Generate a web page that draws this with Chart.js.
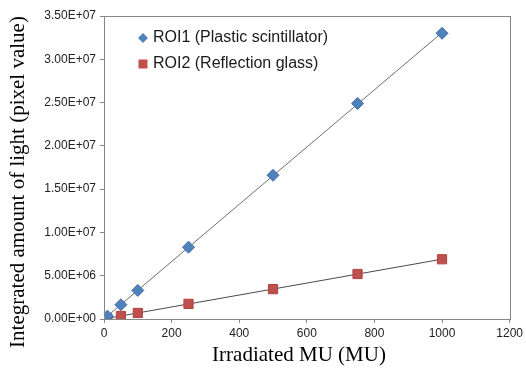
<!DOCTYPE html>
<html>
<head>
<meta charset="utf-8">
<script src="https://cdn.jsdelivr.net/npm/chart.js@4/dist/chart.umd.min.js"></script>
<style>
  html, body { margin: 0; padding: 0; background: #fff; }
  #wrap { width: 526px; height: 369px; }
</style>
</head>
<body>
<div id="wrap"><canvas id="c" width="526" height="369"></canvas></div>
<script>
// values
const doses = [10, 50, 100, 250, 500, 750, 1000];
const roi1 = [0.33e6, 1.65e6, 3.3e6, 8.3e6, 16.6e6, 24.9e6, 33.0e6];
const roi2 = [0.07e6, 0.35e6, 0.7e6, 1.75e6, 3.45e6, 5.2e6, 6.9e6];
const seriesNames = ['ROI1 (Plastic scintillator)', 'ROI2 (Reflection glass)'];
const xTitle = 'Irradiated MU (MU)';
const yTitle = 'Integrated amount of light (pixel value)';

const blue = '#4F81BD';
const red = '#C0504D';

// least squares trendline, drawn from 0 to the last dose
function trend(xs, ys) {
  const n = xs.length;
  const mx = xs.reduce((a, b) => a + b, 0) / n;
  const my = ys.reduce((a, b) => a + b, 0) / n;
  let sxy = 0, sxx = 0;
  for (let i = 0; i < n; i++) {
    sxy += (xs[i] - mx) * (ys[i] - my);
    sxx += (xs[i] - mx) * (xs[i] - mx);
  }
  const k = sxy / sxx, b = my - k * mx;
  const x0 = 0, x1 = xs[n - 1];
  return [{ x: x0, y: k * x0 + b }, { x: x1, y: k * x1 + b }];
}

const pts = (xs, ys) => xs.map((x, i) => ({ x: x, y: ys[i] }));

const frame = {
  id: 'frame',
  afterDraw(chart) {
    const { ctx, chartArea: a } = chart;
    ctx.save();
    ctx.strokeStyle = '#868686';
    ctx.lineWidth = 1;
    ctx.strokeRect(Math.round(a.left) + 0.5, Math.round(a.top) + 0.5,
      Math.round(a.right - a.left), Math.round(a.bottom - a.top));

    // axis titles
    ctx.fillStyle = '#000';
    ctx.font = '21px "Liberation Serif", "DejaVu Serif", serif';
    ctx.textAlign = 'center';
    ctx.textBaseline = 'middle';
    ctx.fillText(xTitle, 299, 355);
    ctx.translate(18, 182);
    ctx.rotate(-Math.PI / 2);
    ctx.fillText(yTitle, 0, 0);
    ctx.restore();

    // legend in the plot area
    ctx.save();
    ctx.font = '16px "Liberation Sans", Arial, sans-serif';
    ctx.textBaseline = 'middle';
    ctx.textAlign = 'left';
    const lx = 143, ly = [38, 64];
    ctx.fillStyle = blue;
    ctx.beginPath();
    ctx.moveTo(lx, ly[0] - 5); ctx.lineTo(lx + 5, ly[0]);
    ctx.lineTo(lx, ly[0] + 5); ctx.lineTo(lx - 5, ly[0]);
    ctx.closePath(); ctx.fill();
    ctx.fillStyle = red;
    ctx.fillRect(lx - 4.5, ly[1] - 4.5, 9, 9);
    ctx.fillStyle = '#1a1a1a';
    ctx.fillText(seriesNames[0], lx + 10, ly[0]);
    ctx.fillText(seriesNames[1], lx + 10, ly[1]);
    ctx.restore();
  }
};

const tickFont = { family: '"Liberation Sans", Arial, sans-serif', size: 12 };

new Chart(document.getElementById('c'), {
  type: 'scatter',
  data: {
    datasets: [
      {
        label: 'trend1', data: trend(doses, roi1), showLine: true,
        borderColor: '#6e6e6e', borderWidth: 1, pointRadius: 0, order: 3
      },
      {
        label: 'trend2', data: trend(doses, roi2), showLine: true,
        borderColor: '#4a4a4a', borderWidth: 1, pointRadius: 0, order: 3
      },
      {
        label: seriesNames[0], data: pts(doses, roi1), pointStyle: 'rectRot',
        pointRadius: 6, backgroundColor: blue, borderColor: '#3f6fa8', borderWidth: 1, order: 1
      },
      {
        label: seriesNames[1], data: pts(doses, roi2), pointStyle: 'rect',
        pointRadius: 6.5, backgroundColor: red, borderColor: '#b0413e', borderWidth: 1, order: 2
      }
    ]
  },
  options: {
    responsive: false,
    animation: false,
    layout: { padding: { top: 16, right: 13, left: 0, bottom: 0 } },
    plugins: { legend: { display: false }, tooltip: { enabled: false } },
    scales: {
      x: {
        type: 'linear', min: 0, max: 1200,
        ticks: { stepSize: 200, color: '#222', font: tickFont, padding: 3, callback: v => String(v) },
        grid: { drawOnChartArea: false, drawTicks: true, tickLength: 4, color: '#868686' },
        border: { color: '#868686' },
        afterFit(s) { s.height = 50; }
      },
      y: {
        min: 0, max: 3.5e7,
        ticks: {
          stepSize: 5e6, color: '#222', font: tickFont, padding: 4,
          callback: v => {
            if (v === 0) return '0.00E+00';
            const e = Math.floor(Math.log10(v));
            return (v / Math.pow(10, e)).toFixed(2) + 'E+' + String(e).padStart(2, '0');
          }
        },
        grid: { drawOnChartArea: false, drawTicks: true, tickLength: 4, color: '#868686' },
        border: { color: '#868686' },
        afterFit(s) { s.width = 104; }
      }
    }
  },
  plugins: [frame]
});
</script>
</body>
</html>
